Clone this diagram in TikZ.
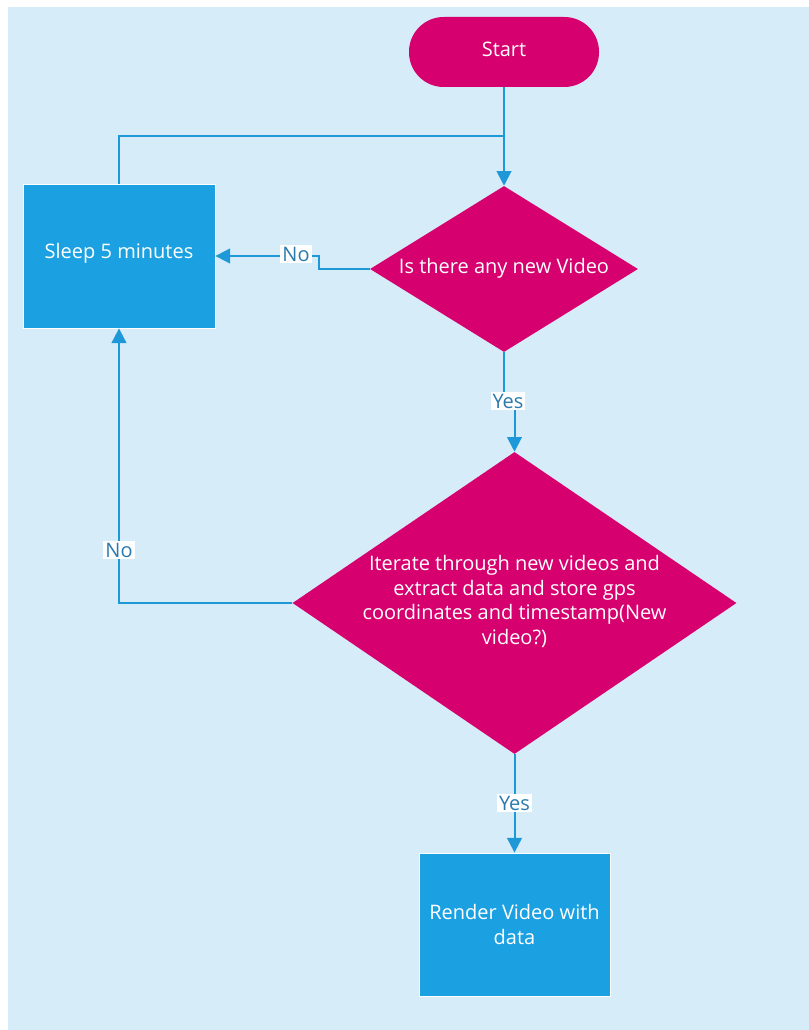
\documentclass[tikz,border=0pt]{standalone}
\usepackage{fontspec}
\setmainfont{Open Sans}
\usetikzlibrary{arrows.meta,shapes.geometric}
\definecolor{canvas}{HTML}{D6ECF8}
\definecolor{magenta}{HTML}{D6006F}
\definecolor{procblue}{HTML}{1BA1E2}
\definecolor{wire}{HTML}{1E98D6}
\definecolor{tagtext}{HTML}{2A7AAE}
\begin{document}
\begin{tikzpicture}[x=0.75pt,y=-0.75pt,
  txt/.style={font=\fontsize{15}{18.4}\selectfont},
  terminal/.style={txt, rectangle, rounded corners=26pt, fill=magenta, text=white,
    minimum width=142.5pt, minimum height=52.5pt},
  process/.style={txt, rectangle, fill=procblue, draw=white, line width=0.6pt, text=white,
    align=center, minimum width=144pt, minimum height=108pt},
  decision/.style={diamond, fill=magenta, inner sep=0pt},
  inlabel/.style={txt, text=white, align=center},
  flow/.style={draw=wire, line width=1.5pt, -{Triangle[length=11pt,width=11pt]}},
  plain/.style={draw=wire, line width=1.5pt},
  tag/.style={txt, fill=white, text=tagtext, inner sep=1.5pt}]

  % canvas
  \useasboundingbox (0,0) rectangle (809,1030);
  \fill[white] (0,0) rectangle (809,1030);
  \fill[canvas] (8,7) rectangle (809,1030);

  % shapes
  \node[terminal] (start) at (504,52) {};
  \node[inlabel] (starttext) at (504,49.5) {Start};
  \node[process] (sleep) at (119,256) {};
  \node[inlabel] (sleeptext) at (119,253) {Sleep 5 minutes};
  \node[decision, minimum width=201pt, minimum height=124.5pt,
        label={[inlabel, yshift=0.5pt]center:Is there any new Video}] (d1) at (504,269) {};
  \node[decision, minimum width=333pt, minimum height=226.5pt,
        label={[inlabel, yshift=1.2pt]center:Iterate through new videos and\\extract data and store gps\\coordinates and timestamp(New\\video?)}] (d2) at (514.5,603) {};
  \node[process, minimum width=143.25pt, minimum height=107.25pt] (render) at (514.5,924.5) {Render Video with\\data};

  % connectors
  \coordinate (join) at (504,136);
  \draw[flow] (start.south) -- (d1.north);
  \draw[plain] (sleep.north) |- (join);
  \draw[flow] (d1.west) -- ++(-51,0) |- (sleep.east);
  \draw[flow] (d1.south) -- ++(0,49) -| (d2.north);
  \draw[flow] (d2.west) -| (sleep.south);
  \draw[flow] (d2.south) -- (render.north);

  % connector labels
  \node[tag] (no1) at (296,254) {No};
  \node[tag] (yes1) at (508,401) {Yes};
  \node[tag] (no2) at (119,550) {No};
  \node[tag] (yes2) at (514.5,803) {Yes};
\end{tikzpicture}
\end{document}
